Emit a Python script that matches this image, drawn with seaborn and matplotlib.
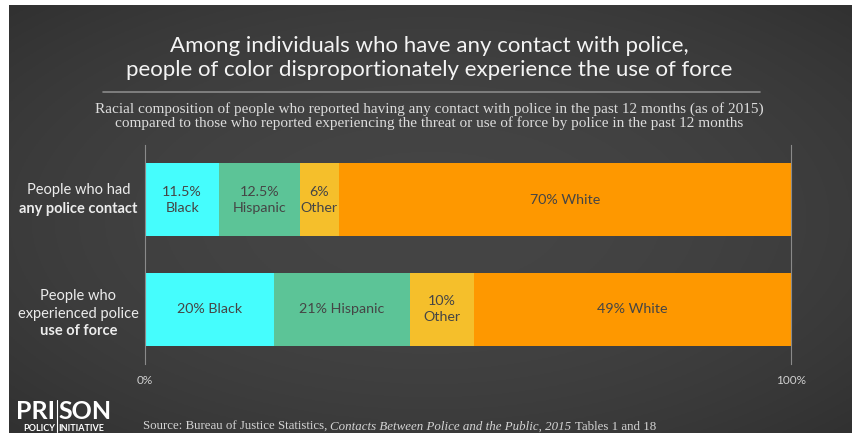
import numpy as np
import pandas as pd
import matplotlib
matplotlib.use("Agg")
import matplotlib.pyplot as plt
import matplotlib.transforms as mtransforms
import seaborn as sns

# ------------------------------------------------------------
# Data
# ------------------------------------------------------------
groups = ["contact", "force"]
races = ["Black", "Hispanic", "Other", "White"]
contact_pct = [11.5, 12.5, 6, 70]
force_pct = [20, 21, 10, 49]
contact_labels = ["11.5%\nBlack", "12.5%\nHispanic", "6%\nOther", "70% White"]
force_labels = ["20% Black", "21% Hispanic", "10%\nOther", "49% White"]
race_colors = ["#45fdfd", "#5cc497", "#f5bf2b", "#fe9800"]
x_ticks = [0, 100]
x_ticklabels = ["0%", "100%"]

title = ("Among individuals who have any contact with police,\n"
         "people of color disproportionately experience the use of force")
subtitle = ("Racial composition of people who reported having any contact with police in the past 12 months (as of 2015)\n"
            "compared to those who reported experiencing the threat or use of force by police in the past 12 months")

sns.set_theme(style="white")
plt.rcParams['font.family'] = ['Lato', 'DejaVu Sans']

df = pd.DataFrame({
    "group": np.repeat(groups, len(races)),
    "race": races * len(groups),
    "pct": contact_pct + force_pct,
})
df["cum"] = df.groupby("group")["pct"].cumsum()
df["left"] = df["cum"] - df["pct"]

fig = plt.figure(figsize=(8.58, 4.33), dpi=100, facecolor="white")
W, H = 858, 433

# dark radial background panel
bg = fig.add_axes([9 / W, 0, 843 / W, 428 / H], zorder=-10)
yy, xx = np.mgrid[-1:1:200j, -1:1:400j]
r2 = (xx ** 2 + yy ** 2) / 2
shade = (69 - 20 * r2) / 255
bg.imshow(np.dstack([shade] * 3), aspect="auto", extent=(0, 1, 0, 1))
bg.set_axis_off()

# main chart
ax = fig.add_axes([145 / W, 1 - 364 / H, 646 / W, 219 / H])
ax.patch.set_alpha(0)

# stacked bars: draw cumulative totals from the widest down
for race, color in reversed(list(zip(races, race_colors))):
    sub = df[df["race"] == race]
    sns.barplot(data=sub, x="cum", y="group", orient="h", color=color,
                saturation=1, width=0.667, ax=ax, order=groups,
                edgecolor="none", linewidth=0)

for group, labels in zip(groups, [contact_labels, force_labels]):
    sub = df[df["group"] == group]
    yi = groups.index(group)
    for (_, row), lab in zip(sub.iterrows(), labels):
        ax.text(row["left"] + row["pct"] / 2, yi, lab, ha="center", va="center",
                fontsize=10.3, color="#454545", linespacing=1.4)

ax.set_xlim(0, 100)
ax.set_ylim(1.5, -0.5)
ax.set_xlabel("")
ax.set_ylabel("")
ax.set_yticks([])
ax.set_xticks(x_ticks)
ax.set_xticklabels(x_ticklabels)
ax.tick_params(axis="x", length=0, pad=8, labelsize=8.5, colors="#d0d0d0")
for s in ["top", "bottom"]:
    ax.spines[s].set_visible(False)
for s in ["left", "right"]:
    ax.spines[s].set_color("#8a8a8a")
    ax.spines[s].set_linewidth(0.8)

# group labels (mixed weight lines)
lab_x = -0.103
ylab = [
    [("People who had", "normal", -0.085), ("any police contact", "bold", 0.085)],
    [("People who", "normal", 0.875), ("experienced police", "normal", 1.04),
     ("use of force", "bold", 1.2)],
]
trans = mtransforms.blended_transform_factory(ax.transAxes, ax.transData)
for lines in ylab:
    for txt, wt, yv in lines:
        ax.text(lab_x, yv, txt, transform=trans, ha="center", va="center",
                fontsize=10.5, fontweight=wt, color="#ececec")

# titles
fig.text(0.5, 1 - 58 / H, title, ha="center", va="center", fontsize=16,
         color="#f4f4f4", linespacing=1.25)
fig.add_artist(plt.Line2D([103 / W, 760 / W], [1 - 92 / H] * 2,
                          color="#8a8a8a", lw=1.2))
fig.text(0.5, 1 - 116 / H, subtitle, ha="center", va="center", fontsize=11,
         color="#dcdcdc", family="Liberation Serif", linespacing=1.1)

# source line with italic title, pieces chained left to right
src_y = 1 - 430 / H
src_kw = dict(fontsize=9.3, color="#d4d4d4", family="Liberation Serif", va="baseline")
pieces = [("Source: Bureau of Justice Statistics, ", "normal"),
          ("Contacts Between Police and the Public, 2015", "italic"),
          (" Tables 1 and 18", "normal")]
x_cur = 143 / W
renderer = fig.canvas.get_renderer()
for txt, st in pieces:
    t = fig.text(x_cur, src_y, txt, style=st, ha="left", **src_kw)
    x_cur = t.get_window_extent(renderer).x1 / fig.bbox.width

# logo
sep_x = 56.5
logo_kw = dict(fontweight="bold", color="white", va="baseline")
fig.text((sep_x - 1.5) / W, 1 - 419 / H, "PRI", fontsize=18, ha="right", **logo_kw)
fig.text((sep_x + 1.5) / W, 1 - 419 / H, "SON", fontsize=18, ha="left", **logo_kw)
fig.text((sep_x - 1.5) / W, 1 - 431 / H, "POLICY", fontsize=6.5, ha="right", **logo_kw)
fig.text((sep_x + 1.5) / W, 1 - 431 / H, "INITIATIVE", fontsize=6.5, ha="left", **logo_kw)
fig.add_artist(plt.Line2D([sep_x / W] * 2, [1 - 432 / H, 1 - 400 / H],
                          color="white", lw=0.8))

fig.savefig("out.png", dpi=100, facecolor="white")
